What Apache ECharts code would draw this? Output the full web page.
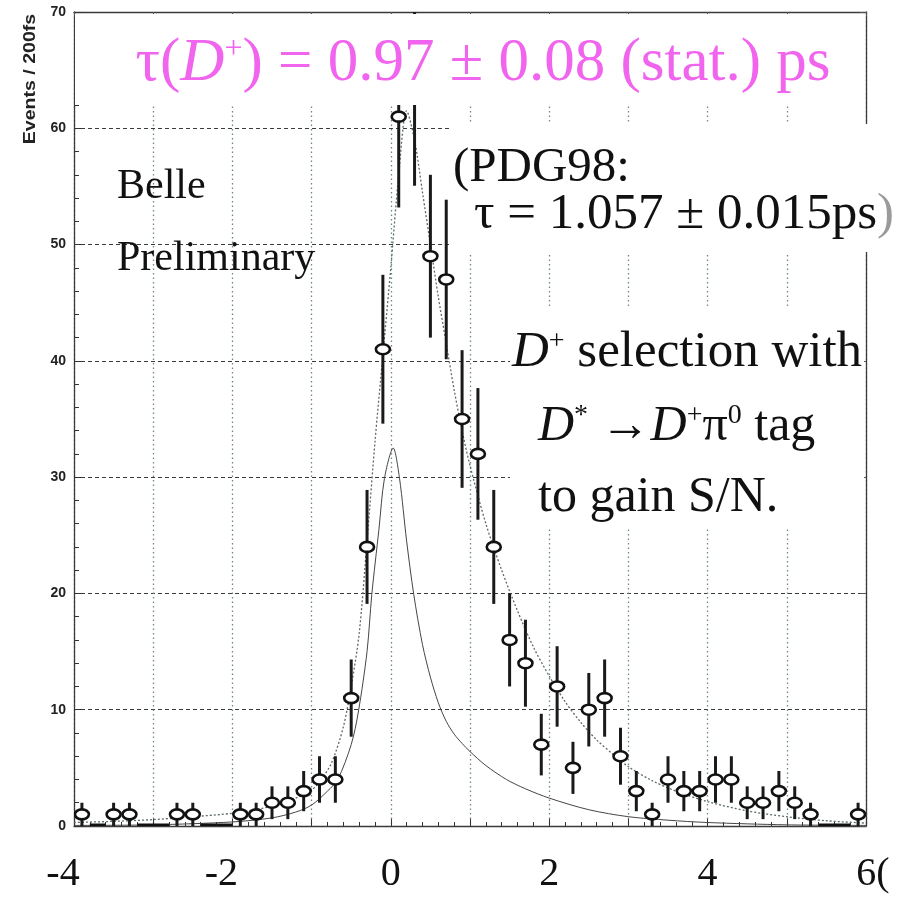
<!DOCTYPE html>
<html>
<head>
<meta charset="utf-8">
<script src="https://cdn.jsdelivr.net/npm/echarts@6/dist/echarts.min.js"></script>
<style>
  html, body { margin: 0; padding: 0; background: #fff; }
  #chart { width: 909px; height: 901px; }
</style>
</head>
<body>
<div id="chart"></div>
<script>
// Proper-time distribution of D+ candidates, 200 fs bins (bin centres in ps)
const binCenters = [-3.9, -3.7, -3.5, -3.3, -3.1, -2.9, -2.7, -2.5, -2.3, -2.1,
                    -1.9, -1.7, -1.5, -1.3, -1.1, -0.9, -0.7, -0.5, -0.3, -0.1,
                     0.1,  0.3,  0.5,  0.7,  0.9,  1.1,  1.3,  1.5,  1.7,  1.9,
                     2.1,  2.3,  2.5,  2.7,  2.9,  3.1,  3.3,  3.5,  3.7,  3.9,
                     4.1,  4.3,  4.5,  4.7,  4.9,  5.1,  5.3,  5.5,  5.7,  5.9];
const counts = [1, 0, 1, 1, 0, 0, 1, 1, 0, 0,
                1, 1, 2, 2, 3, 4, 4, 11, 24, 41,
                61, 63, 49, 47, 35, 32, 24, 16, 14, 7,
                12, 5, 10, 11, 6, 3, 1, 4, 3, 3,
                4, 4, 2, 2, 3, 2, 1, 0, 0, 1];
const countErr = [1, 0, 1, 1, 0, 0, 1, 1, 0, 0,
                  1, 1, 1.41, 1.41, 1.73, 2, 2, 3.32, 4.9, 6.4,
                  7.81, 7.94, 7, 6.86, 5.92, 5.66, 4.9, 4, 3.74, 2.65,
                  3.46, 2.24, 3.16, 3.32, 2.45, 1.73, 1, 2, 1.73, 1.73,
                  2, 2, 1.41, 1.41, 1.73, 1.41, 1, 0, 0, 1];
const binWidth = 0.2;

// Fitted total distribution
const fitTotalT = [-4, -3.5, -3, -2.5, -2, -1.5, -1.2, -1.0, -0.9, -0.75, -0.6, -0.5, -0.4, -0.3,
                   -0.2, -0.1, 0, 0.1, 0.2, 0.3, 0.4, 0.5, 0.6, 0.7, 0.8, 0.9, 1.0, 1.2, 1.4,
                   1.6, 1.8, 2.0, 2.2, 2.4, 2.6, 2.8, 3.0, 3.3, 3.6, 4.0, 4.5, 5.0, 5.5, 6.0];
const fitTotalV = [0.3, 0.4, 0.55, 0.8, 1.1, 1.7, 2.4, 3.1, 3.8, 5.4, 8.5, 12, 16.5, 24.5,
                   33, 40.5, 48, 56, 61.5, 59, 54.5, 50, 45.5, 41.5, 37.5, 34, 31, 26, 22,
                   18.5, 15.4, 12.9, 10.7, 8.9, 7.4, 6.2, 5.1, 3.9, 3.0, 2.1, 1.3, 0.8, 0.45, 0.25];

// Fitted narrow (resolution-dominated) component
const fitCompT = [-4, -3, -2, -1.5, -1.2, -1.0, -0.8, -0.67, -0.5, -0.41, -0.3, -0.24, -0.15, -0.08,
                  0.03, 0.11, 0.2, 0.29, 0.4, 0.5, 0.6, 0.7, 0.8, 0.9, 1.0, 1.2, 1.46, 1.7, 2.0,
                  2.5, 3.0, 3.5, 4.0, 5.0, 6.0];
const fitCompV = [0.05, 0.1, 0.35, 0.7, 1.2, 1.8, 3.0, 4.0, 7.0, 9.8, 15, 19.9, 25.5, 29.9,
                  32.5, 29.9, 24.5, 19.9, 15.6, 12.8, 10.6, 9.0, 7.9, 7.1, 6.4, 5.2, 4.0, 3.2, 2.4,
                  1.4, 0.8, 0.5, 0.3, 0.1, 0.05];

// Axis tick labels
const xLabelValues = [-4, -2, 0, 2, 4, 6];
const xLabelTexts = ['-4', '-2', '0', '2', '4', '6('];
const yLabelValues = [0, 10, 20, 30, 40, 50, 60, 70];

const SERIF = '"Liberation Serif", "Times New Roman", "DejaVu Serif", serif';
const SANS = '"Liberation Sans", Arial, Helvetica, sans-serif';
const MAGENTA = '#f064ee';

const chart = echarts.init(document.getElementById('chart'), null, { renderer: 'canvas' });

const pointData = binCenters.map((t, i) => [t, counts[i], countErr[i]]);
const totalData = fitTotalT.map((t, i) => [t, fitTotalV[i]]);
const compData = fitCompT.map((t, i) => [t, fitCompV[i]]);

function renderPoint(params, api) {
  const t = api.value(0), n = api.value(1), e = api.value(2);
  if (n === 0) {
    const a = api.coord([t - binWidth / 2, 0]);
    const b = api.coord([t + binWidth / 2, 0]);
    return {
      type: 'line',
      shape: { x1: a[0], y1: a[1] - 1, x2: b[0], y2: b[1] - 1 },
      style: { stroke: '#111', lineWidth: 3 }
    };
  }
  const c = api.coord([t, n]);
  const lo = api.coord([t, n - e]);
  const hi = api.coord([t, n + e]);
  return {
    type: 'group',
    children: [
      { type: 'line', shape: { x1: c[0], y1: lo[1], x2: c[0], y2: hi[1] },
        style: { stroke: '#1a1a1a', lineWidth: 3 } },
      { type: 'ellipse', shape: { cx: c[0], cy: c[1], rx: 7, ry: 5 },
        style: { fill: '#fff', stroke: '#111', lineWidth: 2.6 } }
    ]
  };
}

const frameLine = { show: true, onZero: false, lineStyle: { color: '#3a3a3a', width: 1.3 } };

const option = {
  backgroundColor: '#fff',
  animation: false,
  grid: { left: 74, right: 43, top: 12, bottom: 75, containLabel: false },
  xAxis: [
    {
      type: 'value', min: -4, max: 6, interval: 1, position: 'bottom',
      axisLine: frameLine,
      axisTick: { show: true, inside: true, length: 7, lineStyle: { color: '#333', width: 1 } },
      minorTick: { show: true, splitNumber: 5, length: 4, lineStyle: { color: '#333', width: 1 } },
      splitLine: { show: true, lineStyle: { color: '#6b8c78', width: 1.3, type: [1.5, 3] } },
      axisLabel: {
        show: true, margin: 28, showMinLabel: true, showMaxLabel: true, hideOverlap: false,
        formatter: function (v) {
          const i = xLabelValues.indexOf(Math.round(v * 1000) / 1000);
          if (i < 0) return '';
          const s = xLabelTexts[i];
          if (v < 0) return '{neg|' + s + '}';
          if (i === xLabelValues.length - 1) return '{edge|' + s + '}';
          return '{pos|' + s + '}';
        },
        rich: {
          neg: { fontFamily: SERIF, fontSize: 40, color: '#111', padding: [0, 22, 0, 0] },
          pos: { fontFamily: SERIF, fontSize: 40, color: '#111' },
          edge: { fontFamily: SERIF, fontSize: 40, color: '#111', padding: [0, 0, 0, 14] }
        }
      }
    },
    {
      type: 'value', min: -4, max: 6, interval: 1, position: 'top',
      axisLine: frameLine,
      axisTick: { show: true, inside: true, length: 5, lineStyle: { color: '#555' } },
      axisLabel: { show: false },
      splitLine: { show: false }
    }
  ],
  yAxis: [
    {
      type: 'value', min: 0, max: 70, interval: 10, position: 'left',
      axisLine: frameLine,
      axisTick: { show: true, inside: true, length: 8, lineStyle: { color: '#333', width: 1 } },
      minorTick: { show: true, splitNumber: 5, length: 5, lineStyle: { color: '#333', width: 1 } },
      splitLine: { show: true, lineStyle: { color: '#3a3a3a', width: 1, type: [4, 3] } },
      axisLabel: {
        show: true, margin: 8, fontFamily: SANS, fontWeight: 'bold', fontSize: 14, color: '#222',
        formatter: function (v) { return yLabelValues.indexOf(v) >= 0 ? String(v) : ''; }
      }
    },
    {
      type: 'value', min: 0, max: 70, interval: 10, position: 'right',
      axisLine: frameLine,
      axisTick: { show: true, inside: true, length: 6, lineStyle: { color: '#555' } },
      axisLabel: { show: false },
      splitLine: { show: false }
    }
  ],
  series: [
    {
      name: 'component', type: 'line', xAxisIndex: 0, yAxisIndex: 0,
      data: compData, smooth: 0.3, symbol: 'none', clip: true, z: 3,
      lineStyle: { color: '#454545', width: 1 }
    },
    {
      name: 'total', type: 'line', xAxisIndex: 0, yAxisIndex: 0,
      data: totalData, smooth: 0.3, symbol: 'none', clip: true, z: 3,
      lineStyle: { color: '#5a6b60', width: 1.3, type: [2, 2] }
    },
    {
      name: 'data', type: 'custom', xAxisIndex: 0, yAxisIndex: 0,
      data: pointData, renderItem: renderPoint, clip: true, z: 5,
      encode: { x: 0, y: 1 }
    }
  ],
  graphic: [
    // white label panels laid over the plot
    { type: 'rect', z: 50, shape: { x: 75, y: 14, width: 790, height: 91 }, style: { fill: '#fff' } },
    { type: 'rect', z: 50, shape: { x: 450, y: 124, width: 459, height: 128 }, style: { fill: '#fff' } },
    { type: 'rect', z: 50, shape: { x: 510, y: 308, width: 354, height: 220 }, style: { fill: '#fff' } },
    {
      type: 'text', z: 60, x: 483, y: 64,
      style: {
        text: '{n|τ(}{i|D}{s|+}{n|) = 0.97 ± 0.08 (stat.) ps}',
        align: 'center', verticalAlign: 'middle',
        rich: {
          n: { fontFamily: SERIF, fontSize: 61, fill: MAGENTA },
          i: { fontFamily: SERIF, fontSize: 61, fontStyle: 'italic', fill: MAGENTA },
          s: { fontFamily: SERIF, fontSize: 32, fill: MAGENTA, verticalAlign: 'top' }
        }
      }
    },
    {
      type: 'text', z: 60, x: 117, y: 187,
      style: { text: 'Belle', font: '42px ' + SERIF, fill: '#111', align: 'left', verticalAlign: 'middle' }
    },
    {
      type: 'text', z: 60, x: 117, y: 259,
      style: { text: 'Preliminary', font: '42px ' + SERIF, fill: '#111', align: 'left', verticalAlign: 'middle' }
    },
    {
      type: 'text', z: 60, x: 453, y: 168,
      style: { text: '(PDG98:', font: '49px ' + SERIF, fill: '#111', align: 'left', verticalAlign: 'middle' }
    },
    {
      type: 'text', z: 60, x: 474, y: 215,
      style: {
        text: '{n|τ = 1.057 ± 0.015ps}{f|)}',
        align: 'left', verticalAlign: 'middle',
        rich: {
          n: { fontFamily: SERIF, fontSize: 51, fill: '#111' },
          f: { fontFamily: SERIF, fontSize: 51, fill: '#9a9a9a' }
        }
      }
    },
    {
      type: 'text', z: 60, x: 512, y: 353,
      style: {
        text: '{i|D}{s|+}{n| selection with}',
        align: 'left', verticalAlign: 'middle',
        rich: {
          n: { fontFamily: SERIF, fontSize: 51, fill: '#111' },
          i: { fontFamily: SERIF, fontSize: 51, fontStyle: 'italic', fill: '#111' },
          s: { fontFamily: SERIF, fontSize: 28, fill: '#111', verticalAlign: 'top' }
        }
      }
    },
    {
      type: 'text', z: 60, x: 538, y: 427,
      style: {
        text: '{i|D}{s|*}{n| →}{i|D}{s|+}{n|π}{s|0}{n| tag}',
        align: 'left', verticalAlign: 'middle',
        rich: {
          n: { fontFamily: SERIF, fontSize: 50, fill: '#111' },
          i: { fontFamily: SERIF, fontSize: 50, fontStyle: 'italic', fill: '#111' },
          s: { fontFamily: SERIF, fontSize: 28, fill: '#111', verticalAlign: 'top' }
        }
      }
    },
    {
      type: 'text', z: 60, x: 538, y: 498,
      style: { text: 'to gain S/N.', font: '50px ' + SERIF, fill: '#111', align: 'left', verticalAlign: 'middle' }
    },
    {
      type: 'text', z: 60, x: 30, y: 79, rotation: Math.PI / 2, scaleX: 1.15,
      style: { text: 'Events / 200fs', font: 'bold 17px ' + SANS, fill: '#222', align: 'center', verticalAlign: 'middle' }
    }
  ]
};

chart.setOption(option);
</script>
</body>
</html>
